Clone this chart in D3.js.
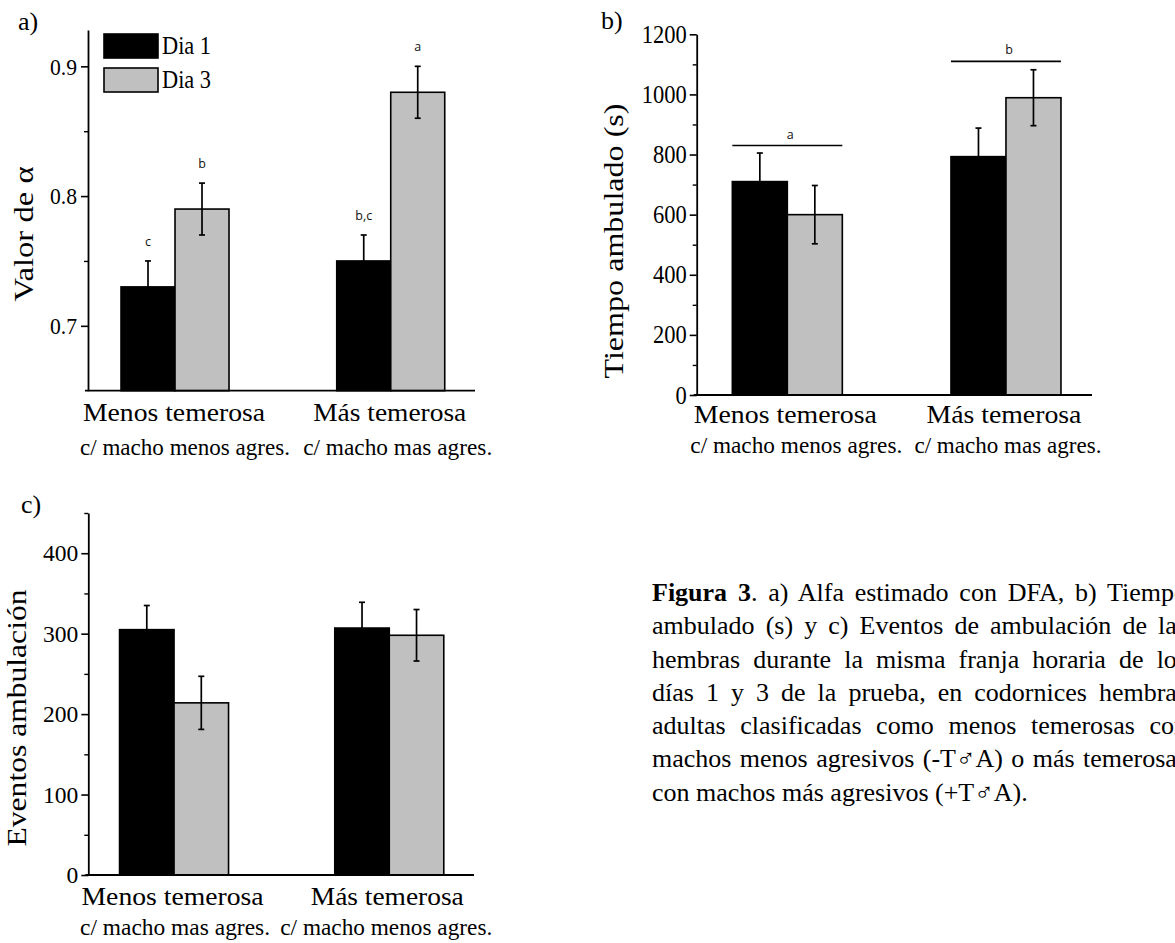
<!DOCTYPE html>
<html><head><meta charset="utf-8">
<script src="https://cdn.jsdelivr.net/npm/d3@7"></script>
<style>
html,body{margin:0;padding:0;background:#fff;overflow:hidden;width:1175px;height:943px;}
#wrap{position:relative;width:1175px;height:943px;overflow:hidden;background:#fff;}
svg{position:absolute;left:0;top:0;}
.cap{position:absolute;left:652px;top:576px;font-family:"Liberation Serif","Times New Roman",serif;font-size:26px;line-height:33.3px;color:#000;}
.cap div{white-space:nowrap;}
</style>
</head><body><div id="wrap"></div>
<script>
// ---------- data ----------
const groups = ["Menos temerosa", "Más temerosa"];
const series = ["Dia 1", "Dia 3"];
const seriesColors = ["#000000", "#c0c0c0"];

const alphaDia1 = [0.73, 0.75];
const alphaDia3 = [0.79, 0.88];
const alphaErrDia1 = [0.02, 0.02];
const alphaErrDia3 = [0.02, 0.02];
const alphaLettersDia1 = ["c", "b,c"];
const alphaLettersDia3 = ["b", "a"];
const alphaTicks = [0.7, 0.8, 0.9];
const alphaMinorTicks = [0.75, 0.85];
const alphaSub = ["c/ macho menos agres.", "c/ macho mas agres."];

const tiempoDia1 = [710, 793];
const tiempoDia3 = [600, 989];
const tiempoErrDia1 = [95, 95];
const tiempoErrDia3 = [97, 93];
const tiempoGroupLetters = ["a", "b"];
const tiempoGroupLevel = [830, 1110];
const tiempoTicks = [0, 200, 400, 600, 800, 1000, 1200];
const tiempoMinorTicks = [100, 300, 500, 700, 900, 1100];
const tiempoSub = ["c/ macho menos agres.", "c/ macho mas agres."];

const eventosDia1 = [305, 307];
const eventosDia3 = [214, 298];
const eventosErrDia1 = [30, 32];
const eventosErrDia3 = [33, 32];
const eventosTicks = [0, 100, 200, 300, 400];
const eventosMinorTicks = [50, 150, 250, 350, 450];
const eventosSub = ["c/ macho mas agres.", "c/ macho menos agres."];

const captionLines = [
  [["Figura 3", true], [". a) Alfa estimado con DFA, b) Tiempo", false]],
  [["ambulado (s) y c) Eventos de ambulación de las", false]],
  [["hembras durante la misma franja horaria de los", false]],
  [["días 1 y 3 de la prueba, en codornices hembras", false]],
  [["adultas clasificadas como menos temerosas con", false]],
  [["machos menos agresivos (-T♂A) o más temerosas", false]],
  [["con machos más agresivos (+T♂A).", false]]
];

// ---------- drawing ----------
const SERIF = '"Liberation Serif","Times New Roman",serif';
const wrap = d3.select("#wrap");
const svg = wrap.append("svg").attr("width", 1175).attr("height", 943);

function fitText(sel, width) {
  sel.attr("textLength", width).attr("lengthAdjust", "spacingAndGlyphs");
}

function drawPanel(p) {
  const g = svg.append("g");
  const x = d3.scalePoint().domain(groups).range([p.x0, p.x1]).padding(p.pad).align(p.align);
  const y = d3.scaleLinear().domain(p.domain).range([p.yBottom, p.yTop]);
  const sub = d3.scaleBand().domain(series).range([-p.bw, p.bw]);

  const rows = [];
  groups.forEach((gr, i) => {
    rows.push({g: gr, s: series[0], v: p.d1[i], e: p.e1[i], c: seriesColors[0], i});
    rows.push({g: gr, s: series[1], v: p.d3[i], e: p.e3[i], c: seriesColors[1], i});
  });

  // bars
  g.selectAll("rect.bar").data(rows).join("rect").attr("class", "bar")
    .attr("x", d => x(d.g) + sub(d.s))
    .attr("y", d => y(d.v))
    .attr("width", sub.bandwidth())
    .attr("height", d => y(p.domain[0]) - y(d.v))
    .attr("fill", d => d.c)
    .attr("stroke", "#000").attr("stroke-width", 1.6);

  // error bars
  const eb = g.selectAll("g.err").data(rows).join("g").attr("class", "err")
    .attr("transform", d => `translate(${x(d.g) + sub(d.s) + sub.bandwidth() / 2},0)`);
  eb.append("line").attr("x1", 0).attr("x2", 0)
    .attr("y1", d => y(d.v - d.e)).attr("y2", d => y(d.v + d.e))
    .attr("stroke", "#000").attr("stroke-width", 1.7);
  eb.append("line").attr("x1", -3).attr("x2", 3)
    .attr("y1", d => y(d.v + d.e)).attr("y2", d => y(d.v + d.e))
    .attr("stroke", "#000").attr("stroke-width", 1.7);
  eb.append("line").attr("x1", -3).attr("x2", 3)
    .attr("y1", d => y(d.v - d.e)).attr("y2", d => y(d.v - d.e))
    .attr("stroke", "#000").attr("stroke-width", 1.7);

  // y axis
  const yAx = g.append("g").attr("transform", `translate(${p.x0},0)`)
    .call(d3.axisLeft(y).tickValues(p.ticks).tickSize(7).tickSizeOuter(0)
      .tickPadding(p.tickPad).tickFormat(p.fmt));
  yAx.select(".domain").attr("stroke", "#000").attr("stroke-width", 1.8);
  yAx.selectAll(".tick line").attr("stroke", "#000").attr("stroke-width", 1.6);
  yAx.selectAll(".tick text").attr("font-family", SERIF).attr("font-size", p.tickFont)
    .attr("fill", "#000").each(function () {
      const t = d3.select(this);
      const L = this.getComputedTextLength();
      fitText(t, L * p.tickSqueeze);
    });
  const yMin = g.append("g").attr("transform", `translate(${p.x0},0)`)
    .call(d3.axisLeft(y).tickValues(p.minor).tickSize(4).tickFormat(""));
  yMin.select(".domain").remove();
  yMin.selectAll(".tick line").attr("stroke", "#000").attr("stroke-width", 1.4);

  // x axis
  const xAx = g.append("g").attr("transform", `translate(0,${p.yBottom})`)
    .call(d3.axisBottom(x).tickValues([]).tickSizeOuter(0));
  xAx.select(".domain").attr("stroke", "#000").attr("stroke-width", 1.8)
    .attr("d", `M${p.x0 - 3},0H${p.x1}`);

  // category labels
  groups.forEach((gr, i) => {
    const l1 = g.append("text").attr("x", x(gr) + p.l1dx[i]).attr("y", p.l1y)
      .attr("text-anchor", "middle").attr("font-family", SERIF).attr("font-size", 26)
      .text(gr);
    fitText(l1, p.l1w[i]);
    const l2 = g.append("text").attr("x", x(gr) + p.l2dx[i]).attr("y", p.l2y)
      .attr("text-anchor", "middle").attr("font-family", SERIF).attr("font-size", 23)
      .text(p.sub[i]);
    fitText(l2, p.l2w[i]);
  });

  // y title
  const yt = g.append("text")
    .attr("transform", `translate(${p.titleX},${p.titleY}) rotate(-90)`)
    .attr("text-anchor", "middle").attr("font-family", SERIF).attr("font-size", p.titleFont)
    .text(p.title);
  fitText(yt, p.titleW);

  // panel letter
  g.append("text").attr("x", p.tagX).attr("y", p.tagY).attr("font-family", SERIF)
    .attr("font-size", 26).text(p.tag);

  return {g, x, y, sub, rows};
}

// Panel a
const A = drawPanel({
  x0: 88, x1: 475, pad: 0.397, align: 0.508, bw: 54,
  domain: [0.65, 0.928], yBottom: 390.7, yTop: 30,
  d1: alphaDia1, d3: alphaDia3, e1: alphaErrDia1, e3: alphaErrDia3,
  ticks: alphaTicks, minor: alphaMinorTicks, fmt: d3.format(".1f"),
  tickFont: 24, tickSqueeze: 0.9, tickPad: 4,
  sub: alphaSub, l1y: 421, l2y: 455, l1dx: [-1, -1], l2dx: [10, 7],
  l1w: [182, 153], l2w: [210, 189],
  title: "Valor de α", titleX: 33, titleY: 234, titleFont: 27, titleW: 135,
  tag: "a)", tagX: 18, tagY: 30
});
// letters over bars in panel a
A.g.selectAll("text.sig").data(A.rows).join("text").attr("class", "sig")
  .attr("x", d => A.x(d.g) + A.sub(d.s) + A.sub.bandwidth() / 2)
  .attr("y", d => A.y(d.v + d.e) - 15)
  .attr("text-anchor", "middle").attr("font-family", '"Open Sans","DejaVu Sans",sans-serif')
  .attr("font-size", 12.5).attr("fill", "#111")
  .text(d => (d.s === series[0] ? alphaLettersDia1 : alphaLettersDia3)[d.i]);
// legend
const leg = A.g.append("g");
series.forEach((s, i) => {
  leg.append("rect").attr("x", 104).attr("y", 34 + i * 34).attr("width", 54).attr("height", 24)
    .attr("fill", seriesColors[i]).attr("stroke", "#000").attr("stroke-width", 1.6);
  const t = leg.append("text").attr("x", 162).attr("y", 54 + i * 33.5)
    .attr("font-family", SERIF).attr("font-size", 25).text(s);
  fitText(t, 49);
});

// Panel b
const B = drawPanel({
  x0: 696.7, x1: 1092, pad: 0.404, align: 0.513, bw: 55,
  domain: [0, 1200], yBottom: 395, yTop: 34.3,
  d1: tiempoDia1, d3: tiempoDia3, e1: tiempoErrDia1, e3: tiempoErrDia3,
  ticks: tiempoTicks, minor: tiempoMinorTicks, fmt: d3.format("d"),
  tickFont: 25, tickSqueeze: 0.9, tickPad: 3,
  sub: tiempoSub, l1y: 423, l2y: 453, l1dx: [-2, -2], l2dx: [9, 2],
  l1w: [183, 155], l2w: [212, 187],
  title: "Tiempo ambulado (s)", titleX: 623, titleY: 241, titleFont: 28, titleW: 275,
  tag: "b)", tagX: 601, tagY: 29
});
groups.forEach((gr, i) => {
  B.g.append("line").attr("x1", B.x(gr) - 55).attr("x2", B.x(gr) + 55)
    .attr("y1", B.y(tiempoGroupLevel[i])).attr("y2", B.y(tiempoGroupLevel[i]))
    .attr("stroke", "#000").attr("stroke-width", 1.7);
  B.g.append("text").attr("x", B.x(gr) + 3).attr("y", B.y(tiempoGroupLevel[i]) - 7)
    .attr("text-anchor", "middle").attr("font-family", '"Open Sans","DejaVu Sans",sans-serif')
    .attr("font-size", 12.5).attr("fill", "#111").text(tiempoGroupLetters[i]);
});

// Panel c
drawPanel({
  x0: 88.3, x1: 474, pad: 0.396, align: 0.503, bw: 54.5,
  domain: [0, 450], yBottom: 875, yTop: 513,
  d1: eventosDia1, d3: eventosDia3, e1: eventosErrDia1, e3: eventosErrDia3,
  ticks: eventosTicks, minor: eventosMinorTicks, fmt: d3.format("d"),
  tickFont: 24, tickSqueeze: 0.98, tickPad: 3,
  sub: eventosSub, l1y: 905, l2y: 935, l1dx: [-1.5, -2], l2dx: [1, -3],
  l1w: [182, 153], l2w: [190, 212],
  title: "Eventos ambulación", titleX: 26, titleY: 718, titleFont: 27, titleW: 257,
  tag: "c)", tagX: 21, tagY: 513
});

// caption (justified lines)
const cap = wrap.append("div").attr("class", "cap");
const capWidth = 535;
captionLines.forEach((parts, li) => {
  const div = cap.append("div");
  parts.forEach(([txt, bold]) => {
    div.append("span").style("font-weight", bold ? "bold" : "normal").text(txt);
  });
  if (li < captionLines.length - 1) {
    const inner = div.node();
    inner.style.display = "inline-block";
    const w = inner.getBoundingClientRect().width;
    const spaces = parts.map(p => p[0]).join("").split(" ").length - 1;
    inner.style.display = "block";
    if (spaces > 0) div.style("word-spacing", ((capWidth - w) / spaces) + "px");
  }
});
</script>
</body></html>
